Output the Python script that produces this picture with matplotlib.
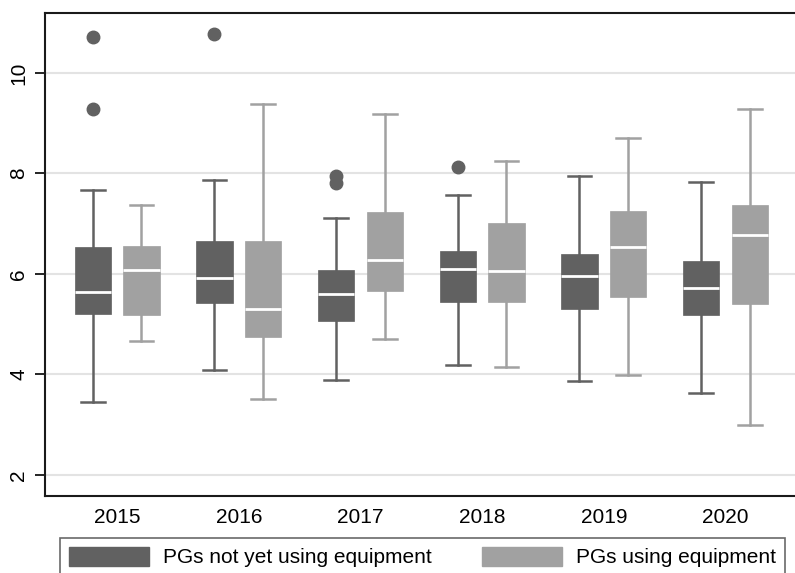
import numpy as np
import matplotlib
matplotlib.use("Agg")
import matplotlib.pyplot as plt
from matplotlib.patches import Patch

plt.rcParams['font.family'] = ['Liberation Sans', 'DejaVu Sans']

years = ['2015', '2016', '2017', '2018', '2019', '2020']

# PGs not yet using equipment
dark_whislo = [3.45, 4.09, 3.89, 4.19, 3.87, 3.62]
dark_q1 = [5.20, 5.42, 5.06, 5.44, 5.30, 5.19]
dark_med = [5.65, 5.91, 5.60, 6.09, 5.95, 5.71]
dark_q3 = [6.53, 6.65, 6.07, 6.46, 6.39, 6.25]
dark_whishi = [7.67, 7.86, 7.11, 7.58, 7.94, 7.83]
dark_fliers = [[10.72, 9.28], [10.77], [7.94, 7.80], [8.12], [], []]

# PGs using equipment
light_whislo = [4.67, 3.51, 4.71, 4.14, 3.99, 2.99]
light_q1 = [5.19, 4.74, 5.66, 5.45, 5.54, 5.40]
light_med = [6.07, 5.30, 6.28, 6.06, 6.54, 6.77]
light_q3 = [6.56, 6.65, 7.23, 7.01, 7.25, 7.38]
light_whishi = [7.38, 9.39, 9.18, 8.24, 8.71, 9.29]
light_fliers = [[], [], [], [], [], []]

dark_col = '#616161'
light_col = '#a1a1a1'


def make_stats(lo, q1, med, q3, hi, fl):
    return [dict(whislo=a, q1=b, med=c, q3=d, whishi=e, fliers=f)
            for a, b, c, d, e, f in zip(lo, q1, med, q3, hi, fl)]


fig = plt.figure(figsize=(7.95, 5.73), dpi=100)
ax = fig.add_axes([0.0566, 0.1344, 0.96, 0.8426])

pos = np.arange(len(years))
width = 0.3
for stats, col, off in [
    (make_stats(dark_whislo, dark_q1, dark_med, dark_q3, dark_whishi, dark_fliers), dark_col, -0.2),
    (make_stats(light_whislo, light_q1, light_med, light_q3, light_whishi, light_fliers), light_col, 0.2),
]:
    ax.bxp(stats, positions=pos + off, widths=width, capwidths=width * 0.65,
           patch_artist=True, manage_ticks=False,
           boxprops=dict(facecolor=col, edgecolor=col, linewidth=0.5),
           medianprops=dict(color='white', linewidth=2),
           whiskerprops=dict(color=col, linewidth=1.8),
           capprops=dict(color=col, linewidth=1.8),
           flierprops=dict(marker='o', markerfacecolor=col, markeredgecolor=col,
                           markersize=9, linestyle='none'),
           zorder=3)

ax.set_xlim(-0.593, len(years) - 1 + 0.68)
ax.set_ylim(1.58, 11.19)
ax.set_xticks(pos)
ax.set_xticklabels(years, fontsize=15)
ax.tick_params(axis='x', length=0, pad=9)
ax.set_yticks([2, 4, 6, 8, 10])
ax.set_yticklabels(['2', '4', '6', '8', '10'], fontsize=15, rotation=90, va='center')
ax.tick_params(axis='y', length=7, width=1.2, pad=5)
ax.yaxis.grid(True, color='#e3e3e3', linewidth=1.5, zorder=0)
ax.set_axisbelow(True)
for s in ['left', 'bottom', 'top']:
    ax.spines[s].set_linewidth(1.5)
    ax.spines[s].set_color('#1a1a1a')
ax.spines['right'].set_visible(False)

handles = [Patch(facecolor=dark_col, edgecolor=dark_col),
           Patch(facecolor=light_col, edgecolor=light_col)]
leg = fig.legend(handles, ['PGs not yet using equipment', 'PGs using equipment'],
                 loc='upper left', bbox_to_anchor=(0.0755, 0.061),
                 ncol=2, fontsize=15, frameon=True, fancybox=False,
                 borderaxespad=0, handlelength=3.84, handleheight=1.0,
                 handletextpad=0.67, columnspacing=2.4, borderpad=0.43)
leg.get_frame().set_edgecolor('#444444')
leg.get_frame().set_linewidth(1.2)

fig.savefig('out.png', dpi=100)
